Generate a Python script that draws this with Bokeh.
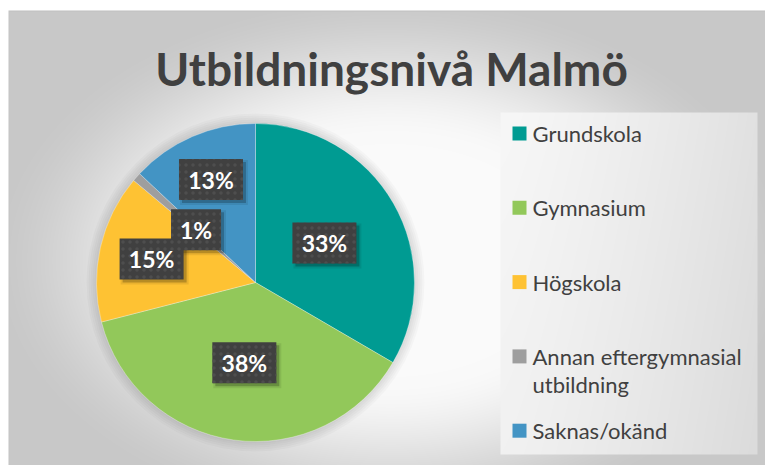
import textwrap
import numpy as np
from bokeh.plotting import figure
from bokeh.models import Range1d, ColumnDataSource
from bokeh.core.properties import value
from bokeh.embed import file_html
from bokeh.resources import INLINE

# ---------------- data ----------------
title = "Utbildningsnivå Malmö"
categories = ["Grundskola", "Gymnasium", "Högskola",
              "Annan eftergymnasial utbildning", "Saknas/okänd"]
shares = [33.4, 37.6, 15.1, 0.9, 13.0]          # percent
colors = ["#009B92", "#92C85A", "#FEC233", "#9E9E9E", "#4394C4"]

# ---------------- layout / style ----------------
W, H = 765, 465
def px(X):  # page x -> data x
    return X
def py(Y):  # page y -> data y
    return H - Y

cx, cy, R = px(255), py(282), 159
label_r = [0.50, 0.51, 0.67, 0.50, 0.705]      # radial position of data labels (fraction of R)
FONT = "Lato"
TXT = "#404040"

p = figure(width=W, height=H, x_range=Range1d(0, W), y_range=Range1d(0, H),
           output_backend="svg", toolbar_location=None, min_border=0,
           x_axis_location=None, y_axis_location=None)
p.grid.visible = False
p.outline_line_color = None
p.background_fill_color = "white"
p.border_fill_color = "white"

# background: radial grey gradient + legend panel
yy, xx = np.mgrid[0:H, 0:W]
X = xx + 0.5
Y = H - (yy + 0.5)
d = np.sqrt(((X - 390) / 390) ** 2 + ((Y - 260) / 260) ** 2)
t = np.clip((d - 0.45) / 0.6, 0, 1)
v = 250 - 50 * (3 * t ** 2 - 2 * t ** 3)
inbox = (X >= 500) & (X <= 757) & (Y >= 112) & (Y <= 454)
fx = np.clip((X - 500) / 257, 0, 1)
fy = np.clip((Y - 112) / 342, 0, 1)
vb = 247 - 22 * fx ** 1.3 - 6 * fy
v = np.where(inbox, vb, v)
v = np.where((Y >= 10) & (Y < 11), 192, v)
v = np.where((X >= 8) & (X < 9) & (Y >= 10), 196, v)
v = np.where((Y < 10) | (X < 8), 255, v)
img = np.empty((H, W), dtype=np.uint32)
view = img.view(dtype=np.uint8).reshape((H, W, 4))
vv = np.clip(v, 0, 255).astype(np.uint8)
view[..., 0] = vv
view[..., 1] = vv
view[..., 2] = vv
view[..., 3] = 255
p.image_rgba(image=[img], x=0, y=0, dw=W, dh=H)

# soft glow around pie
for k in range(1, 6):
    p.circle(x=cx, y=cy, radius=R + 2 * k, fill_color="black", fill_alpha=0.025, line_color=None)

# pie
frac = np.array(shares) / sum(shares)
cum = np.concatenate([[0.0], np.cumsum(frac)])
src = ColumnDataSource(dict(
    start=np.pi / 2 - 2 * np.pi * cum[1:],
    end=np.pi / 2 - 2 * np.pi * cum[:-1],
    color=colors, cat=categories))
p.wedge(x=cx, y=cy, radius=R, start_angle="start", end_angle="end",
        fill_color="color", line_color="white", line_width=0.6, line_alpha=0.5, source=src)

# data labels
mid = np.pi * (cum[:-1] + cum[1:])
lr = np.array(label_r) * R
lx = cx + lr * np.sin(mid)
ly = cy + lr * np.cos(mid)
labels = [f"{round(s)}%" for s in shares]
bw = [22 + 14 * len(s) for s in labels]
bh = 41
lsrc = ColumnDataSource(dict(x=lx, y=ly, xs=lx + 3, ys=ly - 3, w=bw, w2=[b + 4 for b in bw], t=labels))
p.rect(x="xs", y="ys", width="w2", height=bh + 4, fill_color="black", fill_alpha=0.08, line_color=None, source=lsrc)
p.rect(x="xs", y="ys", width="w", height=bh, fill_color="black", fill_alpha=0.22, line_color=None, source=lsrc)
p.rect(x="x", y="y", width="w", height=bh, fill_color="#404040", line_color=None,
       hatch_pattern="dot", hatch_color="#4e4e4e", hatch_scale=7, hatch_weight=1.5, source=lsrc)
p.text(x="x", y="y", text="t", text_color="white", text_font=value(FONT), text_font_style="bold",
       text_font_size="23px", text_align="center", text_baseline="middle", source=lsrc)

# legend
leg_top, leg_step, line_h = 133, 74.3, 28
sq_x, sq_y, tx, ty, tt = [], [], [], [], []
for i, cat in enumerate(categories):
    yc = leg_top + i * leg_step
    sq_x.append(px(519))
    sq_y.append(py(yc))
    for j, line in enumerate(textwrap.wrap(cat, 21)):
        tx.append(px(532))
        ty.append(py(yc + j * line_h))
        tt.append(line)
p.rect(x=sq_x, y=sq_y, width=14, height=14, fill_color=colors, line_color=None)
p.text(x=tx, y=ty, text=tt, text_color=TXT, text_font=value(FONT), text_font_size="22px",
       text_align="left", text_baseline="middle")

# title
p.text(x=[px(391)], y=[py(68)], text=[title], text_color=TXT, text_font=value(FONT),
       text_font_style="bold", text_font_size="46px", text_align="center", text_baseline="alphabetic")

open("out.html", "w").write(file_html(p, INLINE))
